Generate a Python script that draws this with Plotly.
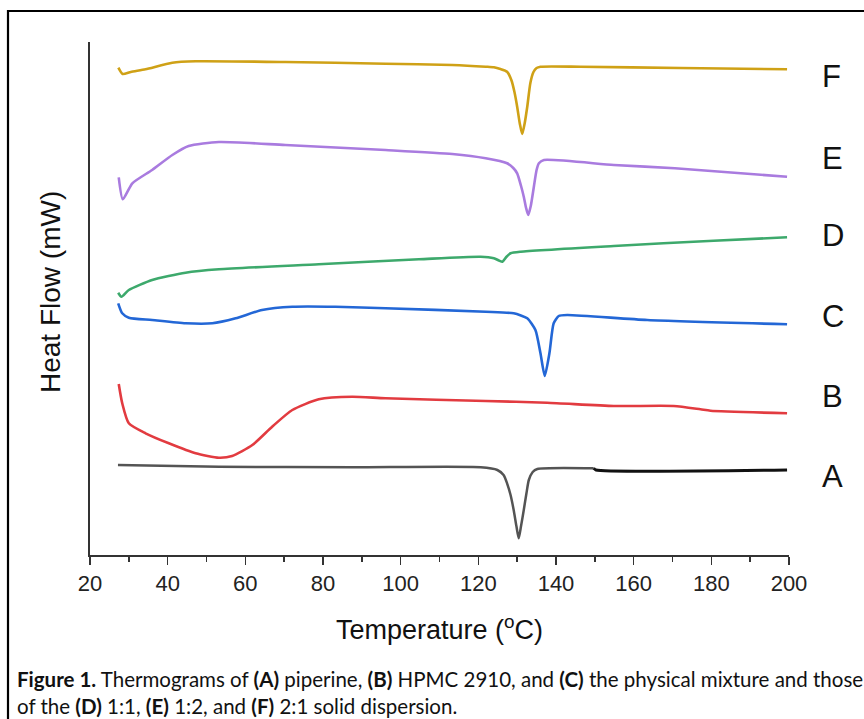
import plotly.graph_objects as go

# ---------------- data (temperature in °C, heat flow in arbitrary stacked units) ----------------
temp_F = [27.3, 28.4, 30.5, 34.3, 41.2, 47.2, 70.3, 96.1, 113.3, 121.9, 124.0, 125.7, 127.4, 128.5, 129.3,
          130.0, 130.7, 131.3, 131.9, 132.6, 133.4, 134.2, 135.0, 136.0, 146.3, 172.0, 199.5]
flow_F = [487.3, 481.0, 483.0, 485.7, 492.3, 493.7, 493.0, 491.3, 490.0, 488.3, 487.7, 486.0, 483.3, 475.0, 463.0,
          448.3, 431.0, 421.0, 431.0, 448.3, 472.0, 483.0, 487.0, 488.3, 488.3, 487.0, 485.7]

temp_E = [27.4, 28.45, 30.9, 36.0, 41.2, 45.4, 53.2, 70.3, 96.1, 113.3, 121.9, 127.4, 129.0, 130.0, 131.0,
          131.7, 132.3, 132.85, 133.5, 134.3, 135.0, 135.6, 136.9, 154.9, 170.6, 199.5]
flow_E = [377.7, 355.7, 371.7, 385.0, 400.0, 409.0, 413.0, 410.0, 405.0, 401.0, 396.7, 391.7, 387.0, 381.7, 369.0,
          358.3, 347.0, 340.0, 349.0, 368.3, 385.0, 391.7, 395.0, 390.0, 386.7, 378.3]

temp_D = [27.26, 28.1, 30.0, 36.0, 44.6, 53.2, 78.9, 104.7, 120.6, 124.0, 125.3, 126.2, 127.2, 128.3, 130.9,
          154.9, 180.6, 199.5]
flow_D = [262.3, 258.3, 265.0, 275.0, 282.3, 285.7, 290.7, 295.7, 298.3, 296.7, 294.5, 293.3, 298.0, 301.7, 303.3,
          309.0, 314.3, 317.7]

temp_C = [27.26, 28.3, 30.0, 36.0, 44.6, 51.5, 57.5, 64.3, 72.1, 83.2, 96.1, 121.9, 129.1, 132.6, 134.7,
          136.0, 137.1, 138.3, 139.4, 140.7, 142.9, 163.5, 199.5]
flow_C = [251.7, 241.7, 237.3, 235.0, 231.7, 231.7, 236.7, 245.0, 248.3, 248.3, 246.7, 243.3, 241.7, 236.7, 225.0,
          201.7, 179.0, 201.7, 231.7, 239.0, 240.0, 235.0, 230.7]

temp_B = [27.4, 28.3, 30.0, 34.3, 40.3, 47.2, 53.2, 56.6, 61.8, 66.9, 72.1, 78.9, 87.5, 96.1, 121.9,
          137.7, 154.9, 170.3, 177.2, 179.8, 199.5]
flow_B = [171.0, 151.7, 131.7, 121.7, 111.7, 101.7, 97.3, 99.0, 110.0, 128.3, 145.0, 155.7, 158.3, 156.7, 154.0,
          152.3, 149.0, 149.0, 145.7, 144.3, 141.7]

temp_A = [27.2, 53.2, 87.5, 120.6, 124.9, 126.5, 127.4, 128.3, 129.1, 129.8, 130.4, 131.0, 131.7, 132.4, 133.0,
          134.0, 135.2, 149.7]
flow_A = [90.0, 88.3, 87.7, 87.7, 85.0, 80.0, 71.7, 60.0, 45.0, 29.0, 16.7, 29.0, 45.0, 62.0, 75.0,
          83.0, 86.0, 86.7]
temp_A_end = [149.7, 150.3, 199.5]
flow_A_end = [86.7, 85.0, 85.0]

curve_labels = ["F", "E", "D", "C", "B", "A"]
label_levels = [479, 397, 320, 239, 159, 79]
x_ticks = [20, 40, 60, 80, 100, 120, 140, 160, 180, 200]

# ---------------- figure ----------------
W, H = 864, 719
ML, MR, MT, MB = 90, 75, 42, 164
PW, PH = W - ML - MR, H - MT - MB


def px(xp):
    return (xp - ML) / PW


def py(yp):
    return (H - MB - yp) / PH


fig = go.Figure()
series = [
    (temp_F, flow_F, "#CFA116", 2.6),
    (temp_E, flow_E, "#A97BDF", 2.6),
    (temp_D, flow_D, "#3DA96C", 2.6),
    (temp_C, flow_C, "#2367D6", 2.6),
    (temp_B, flow_B, "#E23B40", 2.6),
    (temp_A, flow_A, "#545454", 2.5),
    (temp_A_end, flow_A_end, "#111111", 3.0),
]
for xs, ys, col, w in series:
    fig.add_trace(go.Scatter(x=xs, y=ys, mode="lines",
                             line=dict(color=col, width=w, shape="spline", smoothing=0.6),
                             showlegend=False, hoverinfo="skip"))

arial = "Liberation Sans, Arial, sans-serif"

annotations = []
for lab, lvl in zip(curve_labels, label_levels):
    annotations.append(dict(x=px(820), y=lvl, xref="paper", yref="y", text=lab, showarrow=False,
                            xanchor="left", yanchor="middle",
                            font=dict(family=arial, size=31, color="#111111")))

annotations.append(dict(x=px(439), y=py(628), xref="paper", yref="paper",
                        text="Temperature (<sup>o</sup>C)", showarrow=False,
                        xanchor="center", yanchor="middle",
                        font=dict(family=arial, size=27, color="#111111")))
annotations.append(dict(x=px(50), y=py(292), xref="paper", yref="paper",
                        text="Heat Flow (mW)", showarrow=False, textangle=-90,
                        xanchor="center", yanchor="middle",
                        font=dict(family=arial, size=28, color="#111111")))

cap_font = dict(family="Lato, Open Sans, sans-serif", size=20.5, color="#111111")
annotations.append(dict(x=px(15), y=py(679), xref="paper", yref="paper", showarrow=False,
                        xanchor="left", yanchor="middle", align="left", font=cap_font,
                        text="<b>Figure 1.</b> Thermograms of <b>(A)</b> piperine, <b>(B)</b> HPMC 2910, and "
                             "<b>(C)</b> the physical mixture and those"))
annotations.append(dict(x=px(15), y=py(706), xref="paper", yref="paper", showarrow=False,
                        xanchor="left", yanchor="middle", align="left", font=cap_font,
                        text="of the <b>(D)</b> 1:1, <b>(E)</b> 1:2, and <b>(F)</b> 2:1 solid dispersion."))

fig.update_layout(
    width=W, height=H,
    margin=dict(l=ML, r=MR, t=MT, b=MB, pad=0),
    paper_bgcolor="white", plot_bgcolor="white",
    annotations=annotations,
    shapes=[dict(type="rect", xref="paper", yref="paper",
                 x0=px(8), x1=px(900), y0=py(760), y1=py(11),
                 line=dict(color="black", width=2.2), fillcolor="rgba(0,0,0,0)", layer="below")],
)
fig.update_xaxes(range=[20, 200], tickvals=x_ticks, ticktext=[str(v) for v in x_ticks],
                 showgrid=False, zeroline=False, showline=True, linecolor="#333333", linewidth=2,
                 ticks="outside", ticklen=8, tickwidth=1.6, tickcolor="#333333",
                 minor=dict(dtick=10, tick0=20, ticks="outside", ticklen=5, tickwidth=1.4, tickcolor="#333333"),
                 tickfont=dict(family=arial, size=22, color="#222222"))
fig.update_yaxes(range=[0, PH], showgrid=False, zeroline=False, showline=True, linecolor="#333333",
                 linewidth=2, ticks="", showticklabels=False)

fig.write_html("out.html", config={"displayModeBar": False, "staticPlot": True},
               post_script="document.body.style.margin='0px';document.body.style.overflow='hidden';")
